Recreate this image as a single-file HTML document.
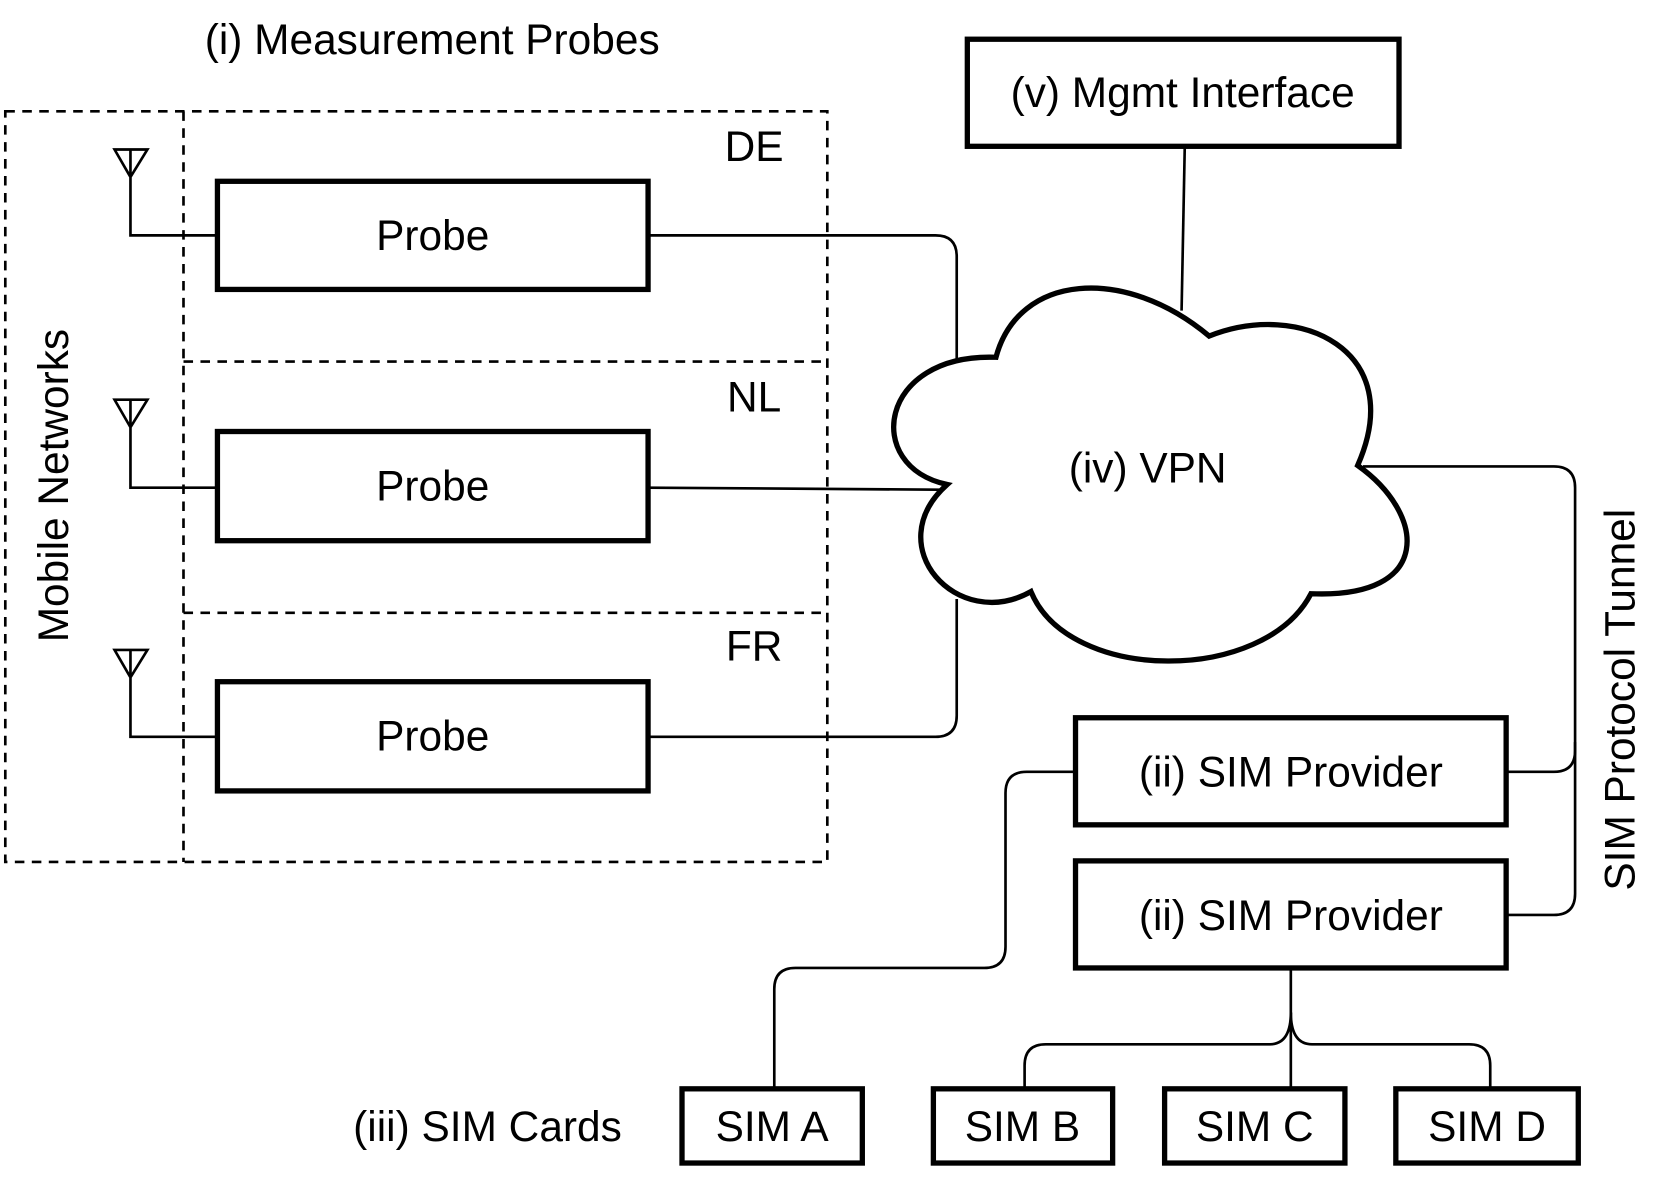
<!DOCTYPE html>
<html><head><meta charset="utf-8"><style>html,body{margin:0;padding:0;background:#fff}svg{display:block}</style></head>
<body>
<svg width="1661" height="1180" viewBox="0 0 1566 1113" preserveAspectRatio="none" xmlns="http://www.w3.org/2000/svg" font-family="Liberation Sans, sans-serif" fill="none" stroke="#000">
<g stroke-width="2.5" stroke-dasharray="9,7">
<rect x="5" y="105" width="775" height="708"/>
<line x1="173" y1="105" x2="173" y2="813"/>
<line x1="173" y1="341" x2="780" y2="341"/>
<line x1="173" y1="578" x2="780" y2="578"/>
</g>
<g stroke-width="2.5">
<path d="M108,141 L139,141 L123,167 Z M123,141 L123,222 L205,222"/>
<path d="M108,377 L139,377 L123,403 Z M123,377 L123,460 L205,460"/>
<path d="M108,613 L139,613 L123,639 Z M123,613 L123,695 L205,695"/>
<path d="M611,222 L882,222 Q902,222 902,242 L902,345"/>
<path d="M611,460 L900,462"/>
<path d="M611,695 L882,695 Q902,695 902,675 L902,565"/>
<path d="M1117,138 L1114,293"/>
<path d="M1285,440 L1465,440 Q1485,440 1485,460 L1485,708 Q1485,728 1465,728 L1421,728"/>
<path d="M1485,700 L1485,843 Q1485,863 1465,863 L1421,863"/>
<path d="M1014,728 L968,728 Q948,728 948,748 L948,893 Q948,913 928,913 L750,913 Q730,913 730,933 L730,1027"/>
<path d="M1217,913 L1217,1027"/>
<path d="M1217,955 Q1217,985 1197,985 L986,985 Q966,985 966,1005 L966,1027"/>
<path d="M1217,955 Q1217,985 1237,985 L1385,985 Q1405,985 1405,1005 L1405,1027"/>
</g>
<path d="M939,337 C960,258 1060,250 1140,317 C1225,283 1328,330 1280,439 C1345,485 1352,565 1236,560 C1192,645 1008,645 972,558 C903,597 828,515 893,457 C813,440 828,333 939,337 Z" fill="#fff" stroke-width="5"/>
<g stroke-width="5" fill="none">
<rect x="205" y="171" width="406" height="102"/>
<rect x="205" y="407" width="406" height="103"/>
<rect x="205" y="643" width="406" height="103"/>
<rect x="912" y="37" width="407" height="101"/>
<rect x="1014" y="677" width="406" height="101"/>
<rect x="1014" y="812" width="406" height="101"/>
<rect x="643" y="1027" width="170" height="70"/>
<rect x="880" y="1027" width="169" height="70"/>
<rect x="1098" y="1027" width="170" height="70"/>
<rect x="1316" y="1027" width="172" height="70"/>
</g>
<g font-size="40" fill="#000" stroke="none">
<text x="193" y="51">(i) Measurement Probes</text>
<text x="711" y="152" text-anchor="middle">DE</text>
<text x="711" y="388" text-anchor="middle">NL</text>
<text x="711" y="623" text-anchor="middle">FR</text>
<text x="408" y="236" text-anchor="middle">Probe</text>
<text x="408" y="472" text-anchor="middle">Probe</text>
<text x="408" y="708" text-anchor="middle">Probe</text>
<text x="1115" y="101" text-anchor="middle">(v) Mgmt Interface</text>
<text x="1082" y="455" text-anchor="middle">(iv) VPN</text>
<text x="1217" y="742" text-anchor="middle">(ii) SIM Provider</text>
<text x="1217" y="877" text-anchor="middle">(ii) SIM Provider</text>
<text x="728" y="1076" text-anchor="middle">SIM A</text>
<text x="964" y="1076" text-anchor="middle">SIM B</text>
<text x="1183" y="1076" text-anchor="middle">SIM C</text>
<text x="1402" y="1076" text-anchor="middle">SIM D</text>
<text x="333" y="1076">(iii) SIM Cards</text>
<text transform="translate(64,458) rotate(-90)" text-anchor="middle">Mobile Networks</text>
<text transform="translate(1541,660) rotate(-90)" text-anchor="middle">SIM Protocol Tunnel</text>
</g>
</svg>
</body></html>
